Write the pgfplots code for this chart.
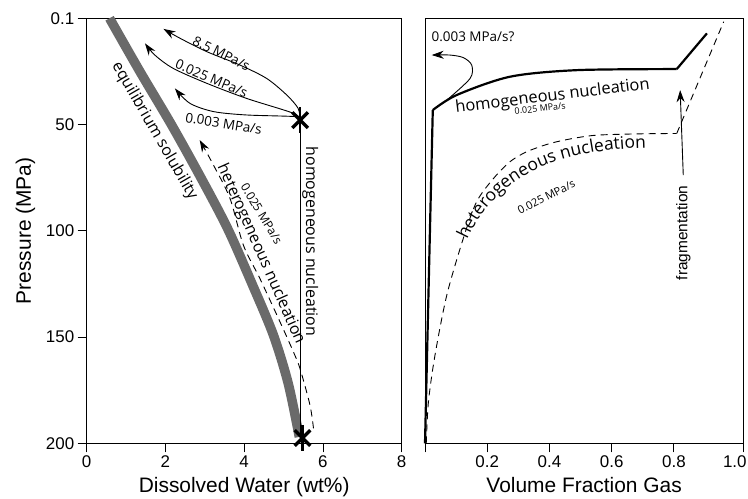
\documentclass[border=0pt]{standalone}
\usepackage{fontspec}
\setmainfont{Liberation Sans}
\newfontfamily\annot{Open Sans}
\usepackage{pgfplots}
\pgfplotsset{compat=1.18}
\usetikzlibrary{arrows.meta,decorations.text}
\definecolor{bandgray}{HTML}{6A6A6A}

\pgfplotsset{
  panel/.style={
    scale only axis, width=#1, height=425bp,
    y dir=reverse, ymin=0, ymax=200,
    axis line style={line width=0.9bp},
    tick style={line width=0.9bp, black},
    tick align=outside, major tick length=9bp,
    xtick pos=bottom, ytick pos=left,
    tick label style={font=\fontsize{17}{20}\selectfont},
    label style={font=\fontsize{21}{24}\selectfont},
    /pgf/number format/assume math mode=true,
    clip=false,
  },
}
\tikzset{arr/.style={-{Stealth[length=12bp,width=8bp]}, line width=0.9bp, black}}

\begin{document}
\begin{tikzpicture}[x=1bp,y=1bp]
\path[use as bounding box] (0,0) rectangle (748,499);

% left panel: dissolved water
\begin{axis}[panel=315bp, at={(86.7bp,55.7bp)}, anchor=south west,
  xmin=0, xmax=8, xtick={0,2,4,6,8},
  ytick={0,50,100,150,200}, yticklabels={0.1,50,100,150,200},
  xlabel={Dissolved Water (wt\%)}, ylabel={Pressure (MPa)},
  xlabel style={yshift=-3bp}, ylabel style={yshift=4bp}]
% equilibrium solubility band
\addplot[bandgray, line width=9.5bp, smooth, line cap=butt] coordinates {
  (0.58,0) (1.35,25) (2.15,50) (2.9,75) (3.58,99) (4.2,125) (4.74,149) (5.12,172) (5.4,197)};
% homogeneous nucleation path
\addplot[black, line width=0.9bp] coordinates {(5.44,199) (5.44,47.9)};
% heterogeneous nucleation (dashed)
\addplot[arr, dash pattern=on 7bp off 5bp, smooth] coordinates {
  (5.76,193) (5.67,182) (5.42,165) (5.25,157) (4.91,142.9) (4.4,122.5) (3.98,106.8) (3.64,84.8) (3.22,69.1) (2.87,57.3)};
% decompression arrows
\addplot[arr, smooth] coordinates {
  (5.42,47.9) (5.37,42.4) (5.08,36.1) (4.57,28.3) (3.89,22) (3.05,15.7) (2.37,9.4) (1.95,5)};
\addplot[arr, smooth] coordinates {
  (5.42,47.9) (5.25,44.7) (4.06,37.7) (3.05,30.6) (2.2,23.6) (1.73,17.3) (1.48,11.8)};
\addplot[arr, smooth] coordinates {
  (5.42,47.9) (5.33,46.3) (4.06,45.5) (3.22,43.9) (2.62,40) (2.24,33)};
% nucleation points
\addplot[only marks, mark=x, mark size=11bp, mark options={line width=3.4bp, black}] coordinates {(5.42,47.9) (5.48,197.5)};
\addplot[only marks, mark=|, mark size=13bp, mark options={line width=2.6bp, black}] coordinates {(5.42,47.9) (5.48,197.5)};
% labels
\node[font=\annot\fontsize{13.5}{14}\selectfont, rotate=-26] at (axis cs:3.42,16.5) {8.5 MPa/s};
\node[font=\annot\fontsize{13.5}{14}\selectfont, rotate=-23] at (axis cs:3.17,28.3) {0.025 MPa/s};
\node[font=\annot\fontsize{13.5}{14}\selectfont, rotate=-9] at (axis cs:3.48,49.5) {0.003 MPa/s};
\node[font=\annot\fontsize{16}{17}\selectfont, rotate=-60] at (axis cs:1.72,53) {equilibrium solubility};
\node[font=\annot\fontsize{16}{17}\selectfont, rotate=-66] at (axis cs:4.42,111) {heterogeneous nucleation};
\node[font=\annot\fontsize{12}{13}\selectfont, rotate=-59] at (axis cs:4.44,92) {0.025 MPa/s};
\node[font=\annot\fontsize{16}{17}\selectfont, rotate=-90] at (axis cs:5.68,105) {homogeneous nucleation};
\end{axis}

% right panel: volume fraction gas
\begin{axis}[panel=318.3bp, at={(425bp,55.7bp)}, anchor=south west,
  xmin=0, xmax=1.023, xtick={0,0.2,0.4,0.6,0.8,1.023},
  xticklabels={,0.2,0.4,0.6,0.8,\hspace*{-17bp}1.0},
  ytick=\empty,
  xlabel={Volume Fraction Gas}, xlabel style={yshift=-3bp}]
% homogeneous nucleation (solid)
\addplot[black, line width=2.2bp] coordinates {(0.0,200) (0.016,99) (0.025,43.2)};
\addplot[black, line width=2.2bp, smooth] coordinates {
  (0.025,43.2) (0.102,36.1) (0.273,27.5) (0.488,24.4) (0.809,23.9)};
\addplot[black, line width=2.2bp] coordinates {(0.809,23.9) (0.906,7.1)};
% heterogeneous nucleation (dashed)
\addplot[black, line width=0.9bp, dash pattern=on 7bp off 5bp, smooth] coordinates {
  (0.004,200) (0.011,180.5) (0.032,158.6) (0.07,130.3) (0.123,103.6) (0.166,86.3) (0.22,75.4) (0.273,67.5) (0.327,62.8) (0.402,58.9) (0.477,56.5) (0.552,55) (0.68,54.4) (0.809,54.2)};
\addplot[black, line width=0.9bp, dash pattern=on 7bp off 5bp] coordinates {(0.809,54.2) (0.96,1.6)};
% 0.003 MPa/s? arrow
\addplot[arr, smooth] coordinates {
  (0.07,38.5) (0.145,28.3) (0.15,22) (0.123,18.5) (0.08,17.3) (0.0215,17.3)};
% fragmentation arrow
\addplot[arr] coordinates {(0.83,73.8) (0.82,33.8)};
% labels
\node[font=\annot\fontsize{13.5}{14}\selectfont, anchor=west] at (axis cs:0.01,8.5) {0.003 MPa/s?};
\node[font=\annot\fontsize{16.5}{17}\selectfont, rotate=7] at (axis cs:0.41,36.8) {homogeneous nucleation};
\node[font=\annot\fontsize{9}{10}\selectfont, rotate=6] at (axis cs:0.37,42.5) {0.025 MPa/s};
\node[font=\annot\fontsize{11}{12}\selectfont, rotate=27] at (axis cs:0.39,84) {0.025 MPa/s};
\node[font=\fontsize{15.5}{16}\selectfont, rotate=90] at (axis cs:0.83,101) {fragmentation};
\coordinate (h1) at (axis cs:0.14,103);
\coordinate (h2) at (axis cs:0.24,72);
\coordinate (h3) at (axis cs:0.45,62);
\coordinate (h4) at (axis cs:0.70,61);
\end{axis}
\path[postaction={decorate}, decoration={text along path, text align=center,
  text={|\annot\fontsize{17.5}{18}\selectfont|heterogeneous nucleation}}]
  (h1) .. controls (h2) and (h3) .. (h4);
\end{tikzpicture}
\end{document}
